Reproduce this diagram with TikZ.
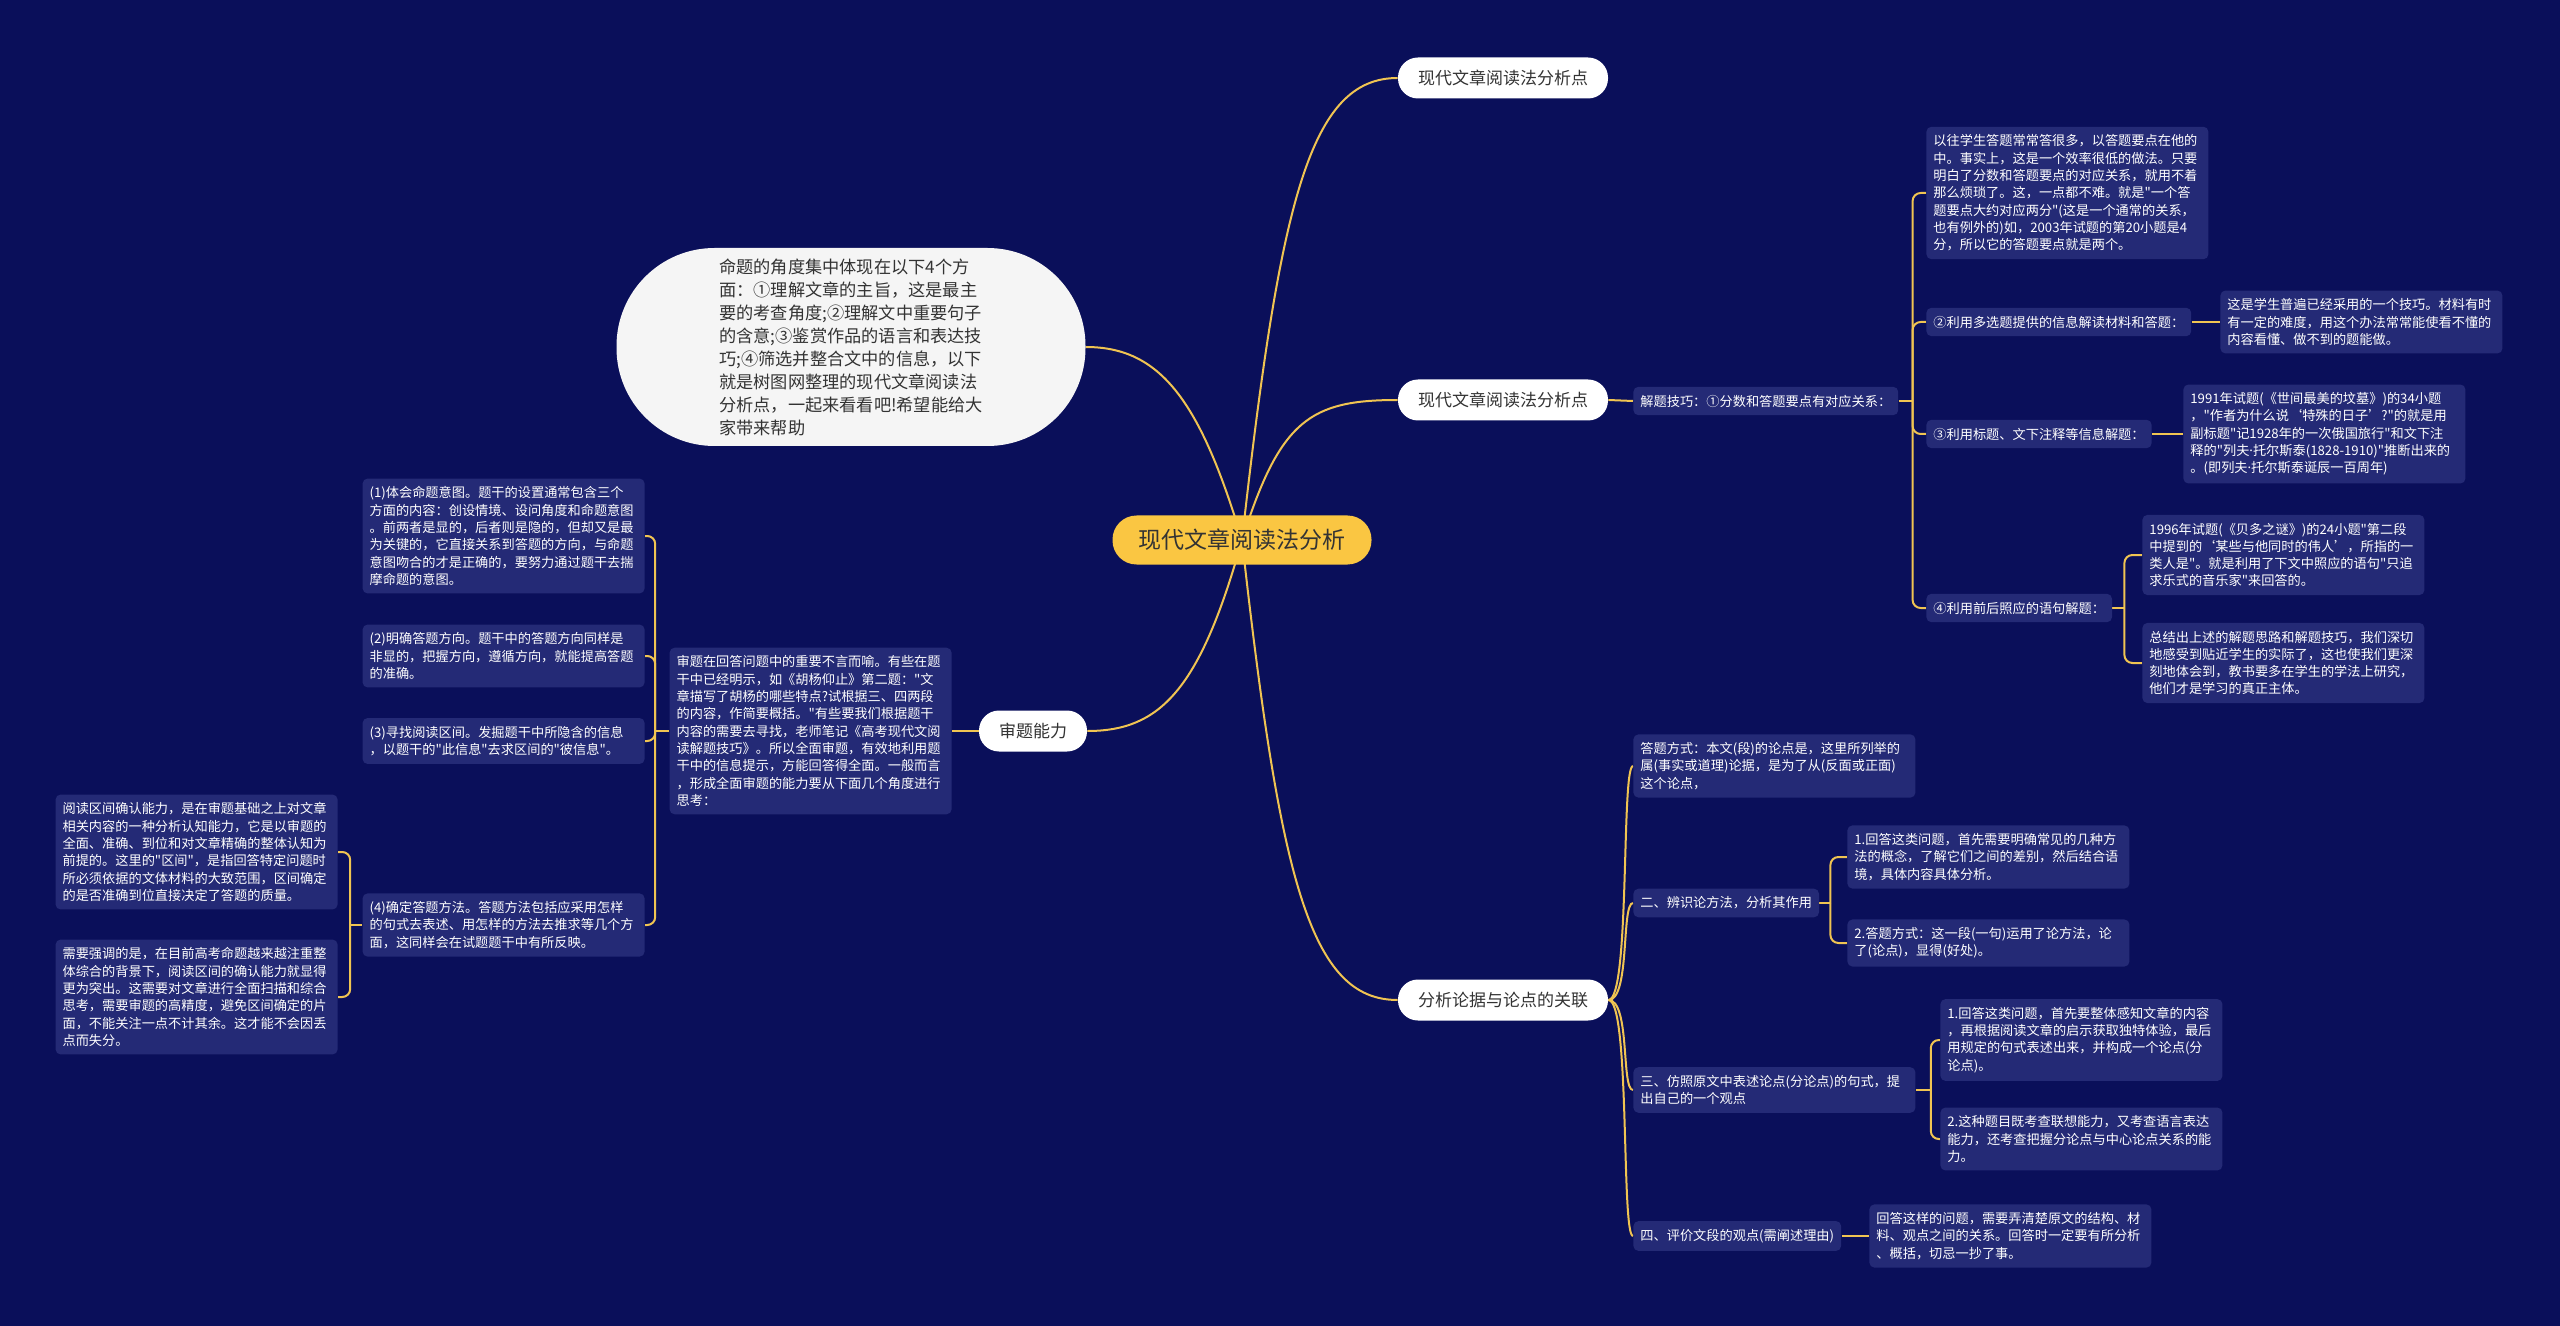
\documentclass[tikz,border=0pt]{standalone}
\usepackage{fontspec}
\setmainfont{Noto Sans CJK SC}[Ligatures=TeXOff]
\newfontfamily\latf{Noto Sans}
\newcommand{\mdot}{{\latf ·}}
\usetikzlibrary{backgrounds}
\definecolor{bgc}{RGB}{10,15,90}
\definecolor{boxc}{RGB}{36,42,118}
\definecolor{linec}{RGB}{240,196,82}
\definecolor{yel}{RGB}{250,198,66}
\definecolor{txtd}{RGB}{51,51,51}
\definecolor{bubc}{RGB}{245,245,245}
\begin{document}
\begin{tikzpicture}[x=0.5pt,y=-0.5pt,
  info/.style={fill=boxc, text=white, rounded corners=2.5pt, inner xsep=3.5pt, inner ysep=4pt, align=left, font=\fontsize{6.6pt}{8.65pt}\selectfont},
  wide/.style={info, text width=134pt},
  lvl/.style={fill=white, text=txtd, rounded corners=10pt, minimum height=20.5pt, inner xsep=10pt, font=\fontsize{8.5pt}{10pt}\selectfont},
  rootbox/.style={fill=yel, text=txtd, rounded corners=12pt, minimum width=129.5pt, minimum height=24.5pt, font=\fontsize{11.5pt}{13pt}\selectfont},
  bubble/.style={fill=bubc, text=txtd, rounded corners=49pt, minimum width=234.5pt, minimum height=99pt, align=left, font=\fontsize{8.6pt}{11.5pt}\selectfont},
  link/.style={draw=linec, line width=1pt}]

% root and first level
\node[rootbox] (c) at (1242,540) {现代文章阅读法分析};
\node[lvl] (r1) at (1503,78) {现代文章阅读法分析点};
\node[lvl] (r2) at (1503,400) {现代文章阅读法分析点};
\node[lvl] (r3) at (1503,1000) {分析论据与论点的关联};
\node[lvl] (l1) at (1033,731) {审题能力};
\node[bubble] (intro) at (851,347) {命题的角度集中体现在以下4个方\\面：①理解文章的主旨，这是最主\\要的考查角度;②理解文中重要句子\\的含意;③鉴赏作品的语言和表达技\\巧;④筛选并整合文中的信息，以下\\就是树图网整理的现代文章阅读法\\分析点，一起来看看吧!希望能给大\\家带来帮助};

% right middle cluster
\node[info, anchor=west] (jq) at (1633,401) {解题技巧：①分数和答题要点有对应关系：};
\node[wide, anchor=west] (a1) at (1926,193) {以往学生答题常常答很多，以答题要点在他的\\中。事实上，这是一个效率很低的做法。只要\\明白了分数和答题要点的对应关系，就用不着\\那么烦琐了。这，一点都不难。就是"一个答\\题要点大约对应两分"(这是一个通常的关系，\\也有例外的)如，2003年试题的第20小题是4\\分，所以它的答题要点就是两个。};
\node[info, anchor=west] (a2) at (1926,322) {②利用多选题提供的信息解读材料和答题：};
\node[wide, anchor=west] (a2c) at (2220,322) {这是学生普遍已经采用的一个技巧。材料有时\\有一定的难度，用这个办法常常能使看不懂的\\内容看懂、做不到的题能做。};
\node[info, anchor=west] (a3) at (1926,434) {③利用标题、文下注释等信息解题：};
\node[wide, anchor=west] (a3c) at (2183,434) {1991年试题(《世间最美的坟墓》)的34小题\\，"作者为什么说‘特殊的日子’?"的就是用\\副标题"记1928年的一次俄国旅行"和文下注\\释的"列夫\mdot 托尔斯泰(1828-1910)"推断出来的\\。(即列夫\mdot 托尔斯泰诞辰一百周年)};
\node[info, anchor=west] (a4) at (1926,608) {④利用前后照应的语句解题：};
\node[wide, anchor=west] (a4c1) at (2142,555) {1996年试题(《贝多之谜》)的24小题"第二段\\中提到的‘某些与他同时的伟人’，所指的一\\类人是"。就是利用了下文中照应的语句"只追\\求乐式的音乐家"来回答的。};
\node[wide, anchor=west] (a4c2) at (2142,663) {总结出上述的解题思路和解题技巧，我们深切\\地感受到贴近学生的实际了，这也使我们更深\\刻地体会到，教书要多在学生的学法上研究，\\他们才是学习的真正主体。};

% right bottom cluster
\node[wide, anchor=west] (b1) at (1633,766) {答题方式：本文(段)的论点是，这里所列举的\\属(事实或道理)论据，是为了从(反面或正面)\\这个论点，};
\node[info, anchor=west] (b2) at (1633,903) {二、辨识论方法，分析其作用};
\node[wide, anchor=west] (b2c1) at (1847,857) {1.回答这类问题，首先需要明确常见的几种方\\法的概念，了解它们之间的差别，然后结合语\\境，具体内容具体分析。};
\node[wide, anchor=west] (b2c2) at (1847,943) {2.答题方式：这一段(一句)运用了论方法，论\\了(论点)，显得(好处)。};
\node[wide, anchor=west] (b3) at (1633,1090) {三、仿照原文中表述论点(分论点)的句式，提\\出自己的一个观点};
\node[wide, anchor=west] (b3c1) at (1940,1040) {1.回答这类问题，首先要整体感知文章的内容\\，再根据阅读文章的启示获取独特体验，最后\\用规定的句式表述出来，并构成一个论点(分\\论点)。};
\node[wide, anchor=west] (b3c2) at (1940,1139) {2.这种题目既考查联想能力，又考查语言表达\\能力，还考查把握分论点与中心论点关系的能\\力。};
\node[info, anchor=west] (b4) at (1633,1236) {四、评价文段的观点(需阐述理由)};
\node[wide, anchor=west] (b4c) at (1869,1236) {回答这样的问题，需要弄清楚原文的结构、材\\料、观点之间的关系。回答时一定要有所分析\\、概括，切忌一抄了事。};

% left cluster
\node[wide, anchor=east] (sj) at (952,731) {审题在回答问题中的重要不言而喻。有些在题\\干中已经明示，如《胡杨仰止》第二题："文\\章描写了胡杨的哪些特点?试根据三、四两段\\的内容，作简要概括。"有些要我们根据题干\\内容的需要去寻找，老师笔记《高考现代文阅\\读解题技巧》。所以全面审题，有效地利用题\\干中的信息提示，方能回答得全面。一般而言\\，形成全面审题的能力要从下面几个角度进行\\思考：};
\node[wide, anchor=east] (s1) at (645,536) {(1)体会命题意图。题干的设置通常包含三个\\方面的内容：创设情境、设问角度和命题意图\\。前两者是显的，后者则是隐的，但却又是最\\为关键的，它直接关系到答题的方向，与命题\\意图吻合的才是正确的，要努力通过题干去揣\\摩命题的意图。};
\node[wide, anchor=east] (s2) at (645,656) {(2)明确答题方向。题干中的答题方向同样是\\非显的，把握方向，遵循方向，就能提高答题\\的准确。};
\node[wide, anchor=east] (s3) at (645,741) {(3)寻找阅读区间。发掘题干中所隐含的信息\\，以题干的"此信息"去求区间的"彼信息"。};
\node[wide, anchor=east] (s4) at (645,925) {(4)确定答题方法。答题方法包括应采用怎样\\的句式去表述、用怎样的方法去推求等几个方\\面，这同样会在试题题干中有所反映。};
\node[wide, anchor=east] (s4c1) at (338,852) {阅读区间确认能力，是在审题基础之上对文章\\相关内容的一种分析认知能力，它是以审题的\\全面、准确、到位和对文章精确的整体认知为\\前提的。这里的"区间"，是指回答特定问题时\\所必须依据的文体材料的大致范围，区间确定\\的是否准确到位直接决定了答题的质量。};
\node[wide, anchor=east] (s4c2) at (338,997) {需要强调的是，在目前高考命题越来越注重整\\体综合的背景下，阅读区间的确认能力就显得\\更为突出。这需要对文章进行全面扫描和综合\\思考，需要审题的高精度，避免区间确定的片\\面，不能关注一点不计其余。这才能不会因丢\\点而失分。};

\begin{scope}[on background layer]
\fill[bgc] (0,0) rectangle (2560,1326);
% root links
\draw[link] (c.center) .. controls (1280,200) and (1310,78) .. (r1.west);
\draw[link] (c.center) .. controls (1280,420) and (1310,400) .. (r2.west);
\draw[link] (c.center) .. controls (1280,880) and (1310,1000) .. (r3.west);
\draw[link] (c.center) .. controls (1200,400) and (1160,347) .. (intro.east);
\draw[link] (c.center) .. controls (1200,690) and (1160,731) .. (l1.east);
% right middle
\draw[link] (r2.east) -- (jq.west);
\draw[link] (jq.east) -- ++(14,0) coordinate (ja);
\foreach \n in {a1,a2,a3,a4} \draw[link,rounded corners=4pt] (ja) |- (\n.west);
\draw[link] (a2.east) -- (a2c.west);
\draw[link] (a3.east) -- (a3c.west);
\draw[link] (a4.east) -- ++(12,0) coordinate (jb);
\foreach \n in {a4c1,a4c2} \draw[link,rounded corners=4pt] (jb) |- (\n.west);
% right bottom
\foreach \n in {b1,b2,b3,b4} \draw[link] (r3.east) .. controls +(22,0) and +(-12,0) .. (\n.west);
\draw[link] (b2.east) -- ++(11,0) coordinate (jc);
\foreach \n in {b2c1,b2c2} \draw[link,rounded corners=4pt] (jc) |- (\n.west);
\draw[link] (b3.east) -- ++(15,0) coordinate (jd);
\foreach \n in {b3c1,b3c2} \draw[link,rounded corners=4pt] (jd) |- (\n.west);
\draw[link] (b4.east) -- (b4c.west);
% left
\draw[link] (l1.west) -- (sj.east);
\draw[link] (sj.west) -- ++(-14,0) coordinate (je);
\foreach \n in {s1,s2,s3,s4} \draw[link,rounded corners=4pt] (je) |- (\n.east);
\draw[link] (s4.west) -- ++(-12,0) coordinate (jf);
\foreach \n in {s4c1,s4c2} \draw[link,rounded corners=4pt] (jf) |- (\n.east);
\end{scope}
\end{tikzpicture}
\end{document}
